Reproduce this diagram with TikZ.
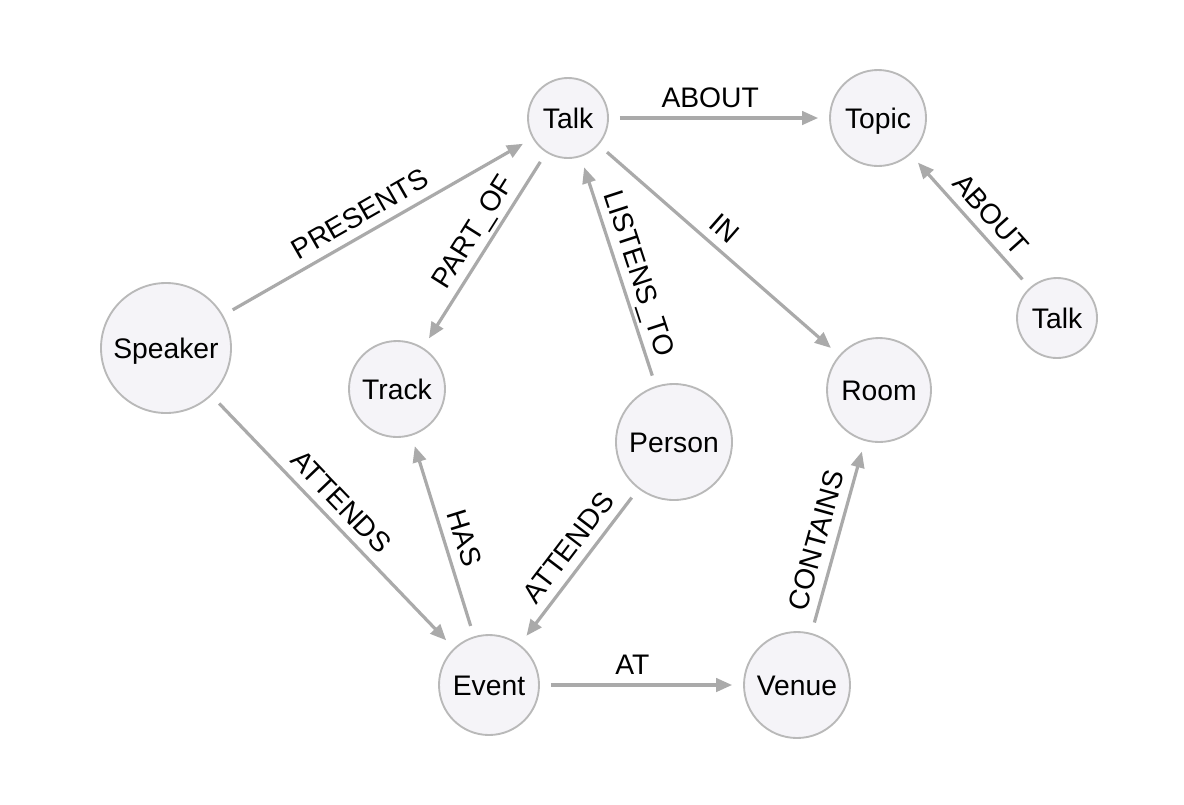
\documentclass[tikz,border=0pt]{standalone}
\usepackage{fontspec}
\setmainfont{Liberation Sans}
\usetikzlibrary{arrows.meta}
\definecolor{nodefill}{HTML}{F5F4F8}
\definecolor{nodeborder}{HTML}{B9B9B9}
\definecolor{edgecol}{HTML}{AAAAAA}
\tikzset{
  nd/.style={circle, draw=nodeborder, fill=nodefill, line width=1.4pt, inner sep=0pt,
    text height=15.2pt, text depth=0pt,
    font=\fontsize{21.2}{25}\selectfont},
  rel/.style={draw=edgecol, line width=2.4pt, -{Triangle[length=12pt,width=10pt]},
    shorten <=8.2pt, shorten >=8.2pt},
  lab/.style={sloped, above=6.6pt, inner sep=0pt, text depth=0pt,
    font=\fontsize{21.2}{25}\selectfont, text=black}
}
\begin{document}
\begin{tikzpicture}[x=0.75pt, y=-0.75pt]
\fill[white] (0,0) rectangle (1184,804);
\useasboundingbox (0,0) rectangle (1184,804);
% nodes (centre in px, diameter in px * 0.75)
\node[nd, minimum size=60pt]   (talk)    at (568,118)  {Talk};
\node[nd, minimum size=72pt]   (topic)   at (878,118)  {Topic};
\node[nd, minimum size=60pt]   (talkb)   at (1057,318) {Talk};
\node[nd, minimum size=97.5pt] (speaker) at (166,348)  {Speaker};
\node[nd, minimum size=72pt]   (track)   at (397,389)  {Track};
\node[nd, minimum size=78pt]   (room)    at (879,390)  {Room};
\node[nd, minimum size=87pt]   (person)  at (674,442)  {Person};
\node[nd, minimum size=75pt]   (event)   at (489,685)  {Event};
\node[nd, minimum size=79.5pt] (venue)   at (797,685)  {Venue};
% relationships
\draw[rel] (talk) -- (topic) node[lab, pos=0.46] {ABOUT};
\draw[rel] (talkb) -- (topic) node[lab, pos=0.45] {ABOUT};
\draw[rel] (speaker) -- (talk) node[lab, pos=0.475] {PRESENTS};
\draw[rel] (talk) -- (track) node[lab, pos=0.46] {PART\_OF};
\draw[rel] (person) -- (talk) node[lab, pos=0.465] {LISTENS\_TO};
\draw[rel] (talk) -- (room) node[lab, pos=0.47] {IN};
\draw[rel] (speaker) -- (event) node[lab, pos=0.475] {ATTENDS};
\draw[rel] (event) -- (track) node[lab, pos=0.46] {HAS};
\draw[rel] (person) -- (event) node[lab, pos=0.455] {ATTENDS};
\draw[rel] (event) -- (venue) node[lab, pos=0.455] {AT};
\draw[rel] (venue) -- (room) node[lab, pos=0.455] {CONTAINS};
\end{tikzpicture}
\end{document}
